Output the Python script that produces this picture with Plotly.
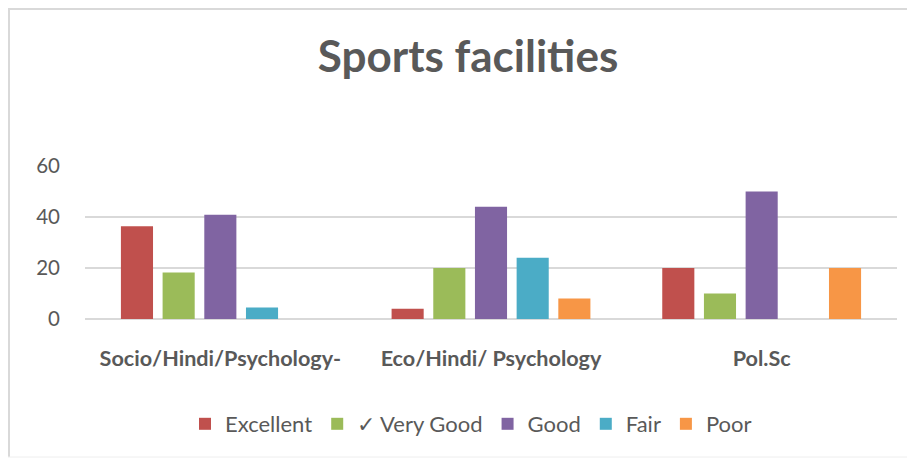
import plotly.graph_objects as go

categories = ["Socio/Hindi/Psychology-", "Eco/Hindi/ Psychology", "Pol.Sc"]
series_names = ["Excellent", "✓ Very Good", "Good", "Fair", "Poor"]
excellent = [36.4, 4, 20]
very_good = [18.2, 20, 10]
good = [40.9, 44, 50]
fair = [4.5, 24, 0]
poor = [0, 8, 20]
y_ticks = [0, 20, 40, 60]

colors = ["#C0504D", "#9BBB59", "#8064A2", "#4BACC6", "#F79646"]
values = [excellent, very_good, good, fair, poor]

fig = go.Figure()
for name, vals, c in zip(series_names, values, colors):
    fig.add_trace(go.Bar(name=name, x=categories, y=vals, marker_color=c,
                         marker_line_width=0))

# page body has an 8px margin; positions below are in figure pixels
OFF = 8
W, H = 915, 459
l, r, t, b = 85 - OFF, 26, 166 - OFF, H - (319 - OFF)
pw, ph = W - l - r, H - t - b

def px(x):
    return (x - OFF - l) / pw

def py(y):
    return (H - b - (y - OFF)) / ph

fig.update_layout(
    width=W, height=H,
    margin=dict(l=l, r=r, t=t, b=b),
    paper_bgcolor="white", plot_bgcolor="white",
    barmode="group", bargap=0.23, bargroupgap=0.23,
    font=dict(family="Lato, 'Open Sans', sans-serif", color="#595959"),
    title=dict(text="<b>Sports facilities</b>", x=(468 - OFF) / W, xanchor="center",
               y=1 - (57 - OFF) / H, yanchor="middle",
               font=dict(size=44, color="#595959")),
    xaxis=dict(showgrid=False, showline=False, ticks="",
               tickfont=dict(size=21.6, color="#595959", family="Lato, sans-serif"),
               tickprefix="<b>", ticksuffix="</b>", ticklabelstandoff=24),
    yaxis=dict(range=[0, 60], tickvals=y_ticks, showgrid=True,
               gridcolor="#D9D9D9", gridwidth=1.5, zeroline=True,
               zerolinecolor="#D9D9D9", zerolinewidth=1.5, showline=False,
               ticks="", tickfont=dict(size=20.5, color="#595959"),
               ticklabelstandoff=24),
    legend=dict(orientation="h", x=(471 - OFF - l) / pw, xanchor="center", y=py(424),
                yanchor="middle", font=dict(size=22, color="#595959"),
                itemwidth=30, traceorder="normal"),
    shapes=[
        dict(type="line", xref="paper", yref="paper", x0=px(9), x1=px(9),
             y0=py(8), y1=py(457), line=dict(color="#D9D9D9", width=2)),
        dict(type="line", xref="paper", yref="paper", x0=px(8), x1=px(930),
             y0=py(9), y1=py(9), line=dict(color="#D9D9D9", width=2)),
        dict(type="line", xref="paper", yref="paper", x0=px(8), x1=px(930),
             y0=py(457), y1=py(457), line=dict(color="#EEEEEE", width=1)),
    ],
)

fig.write_html("out.html")
